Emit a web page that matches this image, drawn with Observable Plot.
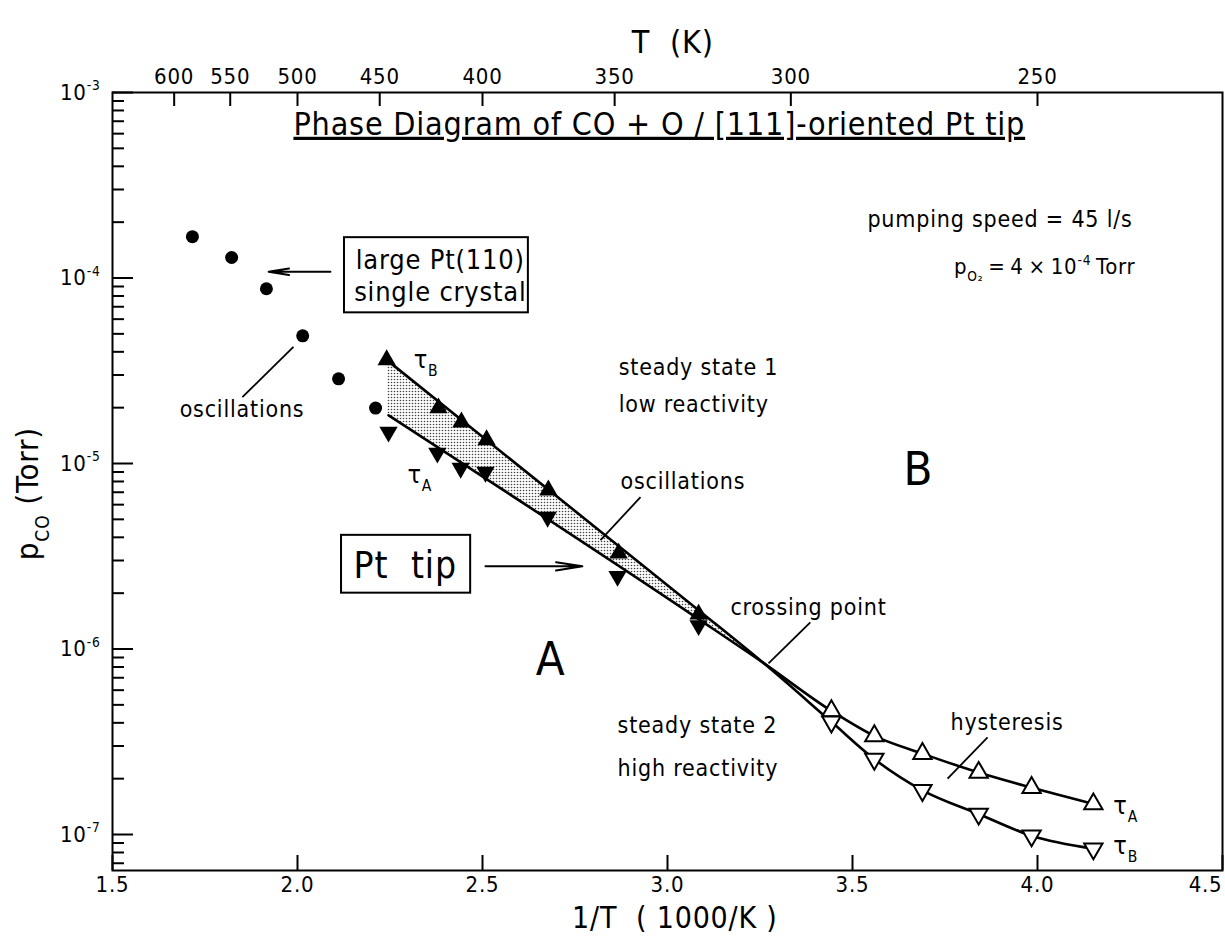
<!DOCTYPE html>
<html><head><meta charset="utf-8">
<script src="https://cdn.jsdelivr.net/npm/d3@7"></script>
<script src="https://cdn.jsdelivr.net/npm/@observablehq/plot@0.6"></script>
<style>body{margin:0;background:#fff}</style>
</head><body><div id="chart"></div>
<script>
// ---------- data ----------
// large Pt(110) single crystal, oscillations (filled circles)
const circleX = [1.716, 1.822, 1.916, 2.014, 2.111, 2.211];
const circleP = [1.67e-4, 1.29e-4, 8.75e-5, 4.88e-5, 2.86e-5, 1.99e-5];
// Pt tip, tau_B (filled up-triangles) and tau_A (filled down-triangles), high T
const tauBFilledX = [2.241, 2.381, 2.443, 2.511, 2.678, 2.868, 3.084];
const tauBFilledP = [3.62e-5, 1.99e-5, 1.67e-5, 1.34e-5, 7.18e-6, 3.28e-6, 1.54e-6];
const tauAFilledX = [2.246, 2.378, 2.441, 2.508, 2.676, 2.865, 3.084];
const tauAFilledP = [1.48e-5, 1.14e-5, 9.44e-6, 8.99e-6, 5.14e-6, 2.47e-6, 1.34e-6];
// Pt tip, low T: tau_A (open up-triangles), tau_B (open down-triangles)
const tauAOpenX = [3.443, 3.559, 3.689, 3.841, 3.984, 4.151];
const tauAOpenP = [4.64e-7, 3.40e-7, 2.73e-7, 2.16e-7, 1.79e-7, 1.46e-7];
const tauBOpenX = [3.443, 3.559, 3.689, 3.841, 3.984, 4.151];
const tauBOpenP = [4.05e-7, 2.55e-7, 1.73e-7, 1.29e-7, 9.85e-8, 8.38e-8];
// drawn curves (crossing point near 1/T = 3.26)
const tauBCurveX = [2.241, 3.084, 3.259, 3.443, 3.559, 3.689, 3.841, 3.984, 4.151];
const tauBCurveP = [3.62e-5, 1.62e-6, 8.42e-7, 4.05e-7, 2.55e-7, 1.73e-7, 1.29e-7, 9.85e-8, 8.38e-8];
const tauACurveX = [2.246, 3.084, 3.259, 3.443, 3.559, 3.689, 3.841, 3.984, 4.151];
const tauACurveP = [1.82e-5, 1.45e-6, 8.42e-7, 4.64e-7, 3.40e-7, 2.73e-7, 2.16e-7, 1.79e-7, 1.46e-7];
// oscillation region (shaded)
const shadeX = [2.243, 3.259];
const shadeLow = [1.82e-5, 8.42e-7];
const shadeHigh = [3.62e-5, 8.42e-7];
// axes
const xTicks = [1.5, 2.0, 2.5, 3.0, 3.5, 4.0, 4.5];
const xTickLabels = ["1.5", "2.0", "2.5", "3.0", "3.5", "4.0", "4.5"];
const topTemps = [600, 550, 500, 450, 400, 350, 300, 250];
const yDecades = [1e-7, 1e-6, 1e-5, 1e-4, 1e-3];
const yTickLabels = ["10^{-7}", "10^{-6}", "10^{-5}", "10^{-4}", "10^{-3}"];
const yDomain = [Math.pow(10, -7.194), 1e-3];

// annotations (positions in data units)
const notes = [
  {t: "Phase Diagram of CO + O / [111]-oriented Pt tip", x: 1.989, y: 6.72e-4, a: "start", s: 32},
  {t: "pumping speed = 45 l/s", x: 4.257, y: 2.06e-4, a: "end", s: 23},
  {t: "p_{O₂}\u2009=\u20094\u2009×\u200910^{-4}\u2009Torr", x: 4.265, y: 1.15e-4, a: "end", s: 22},
  {t: "large Pt(110)", x: 2.386, y: 1.25e-4, a: "middle", s: 27},
  {t: "single crystal", x: 2.386, y: 8.32e-5, a: "middle", s: 27},
  {t: "oscillations", x: 1.850, y: 1.94e-5, a: "middle", s: 23},
  {t: "τ_{B}", x: 2.314, y: 3.62e-5, a: "start", s: 25},
  {t: "τ_{A}", x: 2.297, y: 8.66e-6, a: "start", s: 25},
  {t: "steady state 1", x: 2.868, y: 3.27e-5, a: "start", s: 23},
  {t: "low reactivity", x: 2.868, y: 2.07e-5, a: "start", s: 23},
  {t: "oscillations", x: 2.873, y: 7.94e-6, a: "start", s: 23},
  {t: "B", x: 3.678, y: 9.2e-6, a: "middle", s: 47},
  {t: "Pt  tip", x: 2.291, y: 2.79e-6, a: "middle", s: 37},
  {t: "crossing point", x: 3.170, y: 1.68e-6, a: "start", s: 23},
  {t: "A", x: 2.684, y: 8.68e-7, a: "middle", s: 47},
  {t: "steady state 2", x: 2.865, y: 3.87e-7, a: "start", s: 23},
  {t: "high reactivity", x: 2.865, y: 2.27e-7, a: "start", s: 23},
  {t: "hysteresis", x: 3.765, y: 4.02e-7, a: "start", s: 23},
  {t: "τ_{A}", x: 4.205, y: 1.43e-7, a: "start", s: 25},
  {t: "τ_{B}", x: 4.205, y: 8.70e-8, a: "start", s: 25}
];
const pointers = [
  {x1: 1.851, y1: 2.28e-5, x2: 1.989, y2: 4.25e-5},
  {x1: 2.927, y1: 6.59e-6, x2: 2.819, y2: 3.86e-6},
  {x1: 3.386, y1: 1.39e-6, x2: 3.273, y2: 8.36e-7},
  {x1: 3.865, y1: 3.34e-7, x2: 3.757, y2: 2.00e-7}
];
const arrows = [
  {x1: 2.089, y1: 1.08e-4, x2: 1.922, y2: 1.08e-4},
  {x1: 2.508, y1: 2.79e-6, x2: 2.770, y2: 2.79e-6}
];
const boxes = [
  {x1: 2.127, x2: 2.624, y1: 6.49e-5, y2: 1.65e-4},
  {x1: 2.119, x2: 2.468, y1: 2.00e-6, y2: 4.10e-6}
];

// ---------- tables ----------
const zip = (xs, ys) => xs.map((x, i) => ({x, y: ys[i]}));
const circles = zip(circleX, circleP);
const tauBFilled = zip(tauBFilledX, tauBFilledP);
const tauAFilled = zip(tauAFilledX, tauAFilledP);
const tauAOpen = zip(tauAOpenX, tauAOpenP);
const tauBOpen = zip(tauBOpenX, tauBOpenP);
const tauBCurve = zip(tauBCurveX, tauBCurveP);
const tauACurve = zip(tauACurveX, tauACurveP);
const shade = shadeX.map((x, i) => ({x, lo: shadeLow[i], hi: shadeHigh[i]}));
const minorTicks = [];
for (let e = -8; e <= -4; e++) for (let k = 2; k <= 9; k++) {
  const v = k * Math.pow(10, e);
  if (v >= yDomain[0] && v <= yDomain[1]) minorTicks.push(v);
}
const xLab = xTicks.map((x, i) => ({x, t: xTickLabels[i]}));

const W = 1225, H = 942, mL = 112, mR = 3, mT = 92, mB = 72;
const fw = W - mL - mR, fh = H - mT - mB;
const FONT = "'DejaVu Sans Condensed', 'DejaVu Sans', sans-serif";
const noteMark = (anchor) => Plot.text(notes.filter(d => d.a === anchor),
  {x: "x", y: "y", text: "t", textAnchor: anchor, fontSize: "s", fill: "#000", lineAnchor: "middle"});

const chart = Plot.plot({
  width: W, height: H,
  marginLeft: mL, marginRight: mR, marginTop: mT, marginBottom: mB,
  style: {fontFamily: FONT, background: "#fff", color: "#000", overflow: "visible"},
  x: {type: "linear", domain: [1.5, 4.5], axis: null},
  y: {type: "log", domain: yDomain, axis: null},
  marks: [
    Plot.areaY(shade, {x: "x", y1: "lo", y2: "hi", fill: "url(#stipple)"}),
    Plot.line(tauBCurve, {x: "x", y: "y", curve: "monotone-x", stroke: "#000", strokeWidth: 2.6}),
    Plot.line(tauACurve, {x: "x", y: "y", curve: "monotone-x", stroke: "#000", strokeWidth: 2.6}),
    Plot.dot(circles, {x: "x", y: "y", r: 6.5, fill: "#000"}),
    Plot.dot(tauBFilled, {x: "x", y: "y", symbol: "triangle", r: 6.8, fill: "#000"}),
    Plot.dot(tauAFilled, {x: "x", y: "y", symbol: "triangle", rotate: 180, r: 6.8, fill: "#000"}),
    Plot.dot(tauAOpen, {x: "x", y: "y", symbol: "triangle", r: 6.8, fill: "#fff", stroke: "#000", strokeWidth: 2}),
    Plot.dot(tauBOpen, {x: "x", y: "y", symbol: "triangle", rotate: 180, r: 6.8, fill: "#fff", stroke: "#000", strokeWidth: 2}),
    // annotations
    Plot.rect(boxes, {x1: "x1", x2: "x2", y1: "y1", y2: "y2", fill: "none", stroke: "#000", strokeWidth: 2}),
    Plot.link(pointers, {x1: "x1", y1: "y1", x2: "x2", y2: "y2", stroke: "#000", strokeWidth: 1.8}),
    Plot.arrow(arrows, {x1: "x1", y1: "y1", x2: "x2", y2: "y2", stroke: "#000", strokeWidth: 2, headLength: 20, headAngle: 18}),
    noteMark("start"), noteMark("middle"), noteMark("end"),
    // frame and ticks
    Plot.frame({stroke: "#000", strokeWidth: 2}),
    Plot.ruleX(xTicks, {x: d => d, insetTop: fh - 15, stroke: "#000", strokeWidth: 2}),
    Plot.ruleX(topTemps, {x: d => 1000 / d, insetBottom: fh - 14, stroke: "#000", strokeWidth: 2}),
    Plot.ruleY(yDecades, {y: d => d, insetRight: fw - 21, stroke: "#000", strokeWidth: 2}),
    Plot.ruleY(minorTicks, {y: d => d, insetRight: fw - 12, stroke: "#000", strokeWidth: 2}),
    // tick labels
    Plot.text(xLab.slice(0, -1), {x: "x", frameAnchor: "bottom", dy: 21, text: "t", fontSize: 22, fill: "#000"}),
    Plot.text(xLab.slice(-1), {x: "x", frameAnchor: "bottom", dy: 21, text: "t", textAnchor: "end", fontSize: 22, fill: "#000"}),
    Plot.text(topTemps, {x: d => 1000 / d, frameAnchor: "top", dy: -24, text: d => String(d), fontSize: 22, fill: "#000"}),
    Plot.text(yDecades, {y: d => d, frameAnchor: "left", dx: -12, textAnchor: "end", text: (d, i) => yTickLabels[i], fontSize: 22, fill: "#000"}),
    // axis titles
    Plot.text(["T  (K)"], {x: 3.014, frameAnchor: "top", dy: -62, text: d => d, fontSize: 32, fill: "#000"}),
    Plot.text(["1/T  ( 1000/K )"], {x: 3.02, frameAnchor: "bottom", dy: 57, text: d => d, fontSize: 30, fill: "#000"}),
    Plot.text(["p_{CO} (Torr)"], {y: 3.01e-6, frameAnchor: "left", dx: -84, rotate: -90, textAnchor: "start", text: d => d, fontSize: 31, fill: "#000"})
  ]
});

document.getElementById("chart").appendChild(chart);

const svg = d3.select(chart);
svg.style("letter-spacing", "0.8px");
// stipple pattern for the oscillation region
const pat = svg.insert("defs", ":first-child").append("pattern")
  .attr("id", "stipple").attr("patternUnits", "userSpaceOnUse").attr("width", 3).attr("height", 3);
pat.append("rect").attr("width", 3).attr("height", 3).attr("fill", "#fff");
pat.append("circle").attr("cx", 1.5).attr("cy", 1.5).attr("r", 0.8).attr("fill", "#444");

// sub/superscripts as real tspans; underline the title
svg.selectAll("text").each(function () {
  const el = this, s = el.textContent;
  if (s === notes[0].t) el.style.textDecoration = "underline";
  if (!/[_^]\{/.test(s)) return;
  const fs = parseFloat(getComputedStyle(el).fontSize) || 20;
  const parts = []; const re = /([_^])\{([^}]*)\}/g; let last = 0, m;
  while ((m = re.exec(s))) {
    if (m.index > last) parts.push({t: s.slice(last, m.index), k: 0});
    parts.push({t: m[2], k: m[1] === "_" ? 1 : -1});
    last = re.lastIndex;
  }
  if (last < s.length) parts.push({t: s.slice(last), k: 0});
  while (el.firstChild) el.removeChild(el.firstChild);
  let cur = 0;
  for (const p of parts) {
    const ts = document.createElementNS("http://www.w3.org/2000/svg", "tspan");
    const target = p.k === 1 ? 0.33 * fs : p.k === -1 ? -0.42 * fs : 0;
    if (target - cur) ts.setAttribute("dy", target - cur);
    cur = target;
    if (p.k) ts.setAttribute("font-size", 0.62 * fs);
    ts.textContent = p.t;
    el.appendChild(ts);
  }
});
</script></body></html>
